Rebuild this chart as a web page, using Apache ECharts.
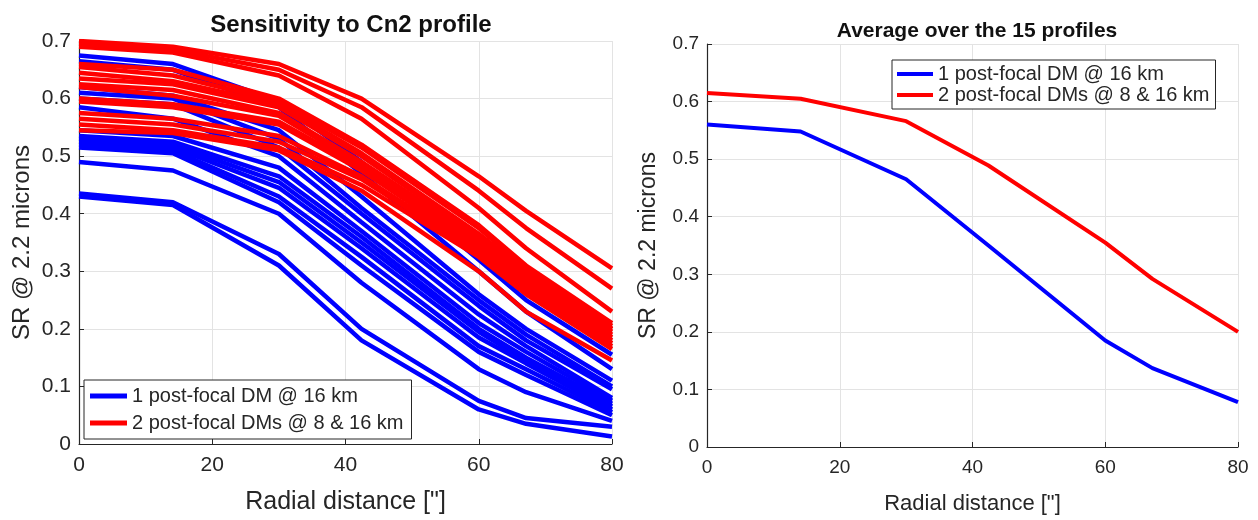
<!DOCTYPE html>
<html>
<head>
<meta charset="utf-8">
<script src="https://cdn.jsdelivr.net/npm/echarts@6/dist/echarts.min.js"></script>
<style>
  html, body { margin: 0; padding: 0; background: #fff; }
  #chart { width: 1258px; height: 520px; }
</style>
</head>
<body>
<div id="chart"></div>
<script>
// radial distance samples (arcsec)
const radialDistance = [0, 14.1, 30, 42.4, 60, 67.1, 80];

// 15 Cn2 profiles, 1 post-focal DM @ 16 km
const oneDmProfiles = [
  [0.675, 0.660, 0.595, 0.490, 0.320, 0.250, 0.155],
  [0.665, 0.650, 0.585, 0.470, 0.300, 0.230, 0.130],
  [0.620, 0.605, 0.545, 0.430, 0.260, 0.200, 0.110],
  [0.610, 0.600, 0.530, 0.410, 0.250, 0.190, 0.100],
  [0.600, 0.590, 0.515, 0.400, 0.240, 0.180, 0.095],
  [0.585, 0.565, 0.500, 0.385, 0.225, 0.170, 0.080],
  [0.545, 0.535, 0.480, 0.370, 0.210, 0.160, 0.075],
  [0.535, 0.525, 0.465, 0.360, 0.200, 0.150, 0.070],
  [0.530, 0.520, 0.455, 0.350, 0.195, 0.145, 0.065],
  [0.525, 0.515, 0.445, 0.340, 0.185, 0.140, 0.060],
  [0.520, 0.510, 0.430, 0.325, 0.170, 0.130, 0.055],
  [0.515, 0.505, 0.420, 0.310, 0.160, 0.120, 0.050],
  [0.490, 0.475, 0.400, 0.280, 0.130, 0.090, 0.040],
  [0.435, 0.420, 0.330, 0.200, 0.075, 0.045, 0.030],
  [0.430, 0.415, 0.310, 0.180, 0.060, 0.035, 0.013]
];

// same profiles, 2 post-focal DMs @ 8 & 16 km
const twoDmProfiles = [
  [0.700, 0.690, 0.660, 0.600, 0.465, 0.405, 0.305],
  [0.695, 0.685, 0.650, 0.585, 0.440, 0.375, 0.270],
  [0.690, 0.680, 0.640, 0.565, 0.410, 0.340, 0.230],
  [0.660, 0.650, 0.600, 0.520, 0.380, 0.310, 0.210],
  [0.655, 0.640, 0.595, 0.515, 0.375, 0.305, 0.205],
  [0.645, 0.630, 0.590, 0.505, 0.365, 0.300, 0.200],
  [0.635, 0.625, 0.585, 0.500, 0.360, 0.295, 0.200],
  [0.625, 0.615, 0.575, 0.490, 0.355, 0.290, 0.195],
  [0.620, 0.605, 0.570, 0.485, 0.350, 0.285, 0.190],
  [0.600, 0.590, 0.560, 0.480, 0.345, 0.280, 0.185],
  [0.595, 0.585, 0.555, 0.475, 0.340, 0.275, 0.180],
  [0.575, 0.565, 0.535, 0.465, 0.335, 0.270, 0.175],
  [0.565, 0.555, 0.525, 0.460, 0.330, 0.265, 0.170],
  [0.555, 0.545, 0.515, 0.450, 0.325, 0.260, 0.165],
  [0.545, 0.540, 0.510, 0.440, 0.300, 0.230, 0.145]
];

// averages over the 15 profiles
const oneDmAverage = [0.560, 0.548, 0.465, 0.350, 0.185, 0.137, 0.078];
const twoDmAverage = [0.615, 0.605, 0.566, 0.489, 0.355, 0.292, 0.200];

const xTicks = { min: 0, max: 80, interval: 20 };
const yTicks = { min: 0, max: 0.7, interval: 0.1 };

const NAME_ONE = '1 post-focal DM @ 16 km';
const NAME_TWO = '2 post-focal DMs @ 8 & 16 km';
const BLUE = '#0000ff';
const RED = '#ff0000';
const FONT = '"Liberation Sans", Arial, sans-serif';
const INK = '#262626';

const pairs = (vals) => vals.map((v, i) => [radialDistance[i], v]);

const lineSeries = (name, vals, color, idx, width) => ({
  name: name,
  type: 'line',
  xAxisIndex: idx,
  yAxisIndex: idx,
  data: pairs(vals),
  symbol: 'none',
  silent: true,
  animation: false,
  lineStyle: { color: color, width: width },
  itemStyle: { color: color }
});

function xAxisFor(idx, fs, nameFs, gap) {
  return {
    type: 'value', gridIndex: idx,
    min: xTicks.min, max: xTicks.max, interval: xTicks.interval,
    name: 'Radial distance ["]', nameLocation: 'middle', nameGap: gap,
    nameTextStyle: { fontFamily: FONT, fontSize: nameFs, color: INK },
    axisLine: { show: true, onZero: false, lineStyle: { color: INK, width: 1.2 } },
    axisTick: { show: true, inside: true, length: 5, lineStyle: { color: INK } },
    axisLabel: { fontFamily: FONT, fontSize: fs, color: INK, margin: 11 },
    splitLine: { show: true, lineStyle: { color: '#e3e3e3', width: 1 } }
  };
}

function yAxisFor(idx, fs, nameFs, gap) {
  return {
    type: 'value', gridIndex: idx,
    min: yTicks.min, max: yTicks.max, interval: yTicks.interval,
    name: 'SR @ 2.2 microns', nameLocation: 'middle', nameGap: gap,
    nameTextStyle: { fontFamily: FONT, fontSize: nameFs, color: INK },
    axisLine: { show: true, onZero: false, lineStyle: { color: INK, width: 1.2 } },
    axisTick: { show: true, inside: true, length: 5, lineStyle: { color: INK } },
    axisLabel: { fontFamily: FONT, fontSize: fs, color: INK, margin: 8,
      formatter: (v) => (Math.round(v * 10) / 10).toString() },
    splitLine: { show: true, lineStyle: { color: '#e3e3e3', width: 1 } }
  };
}

const series = [];
for (let i = 0; i < oneDmProfiles.length; i++) {
  series.push(lineSeries(NAME_ONE, oneDmProfiles[i], BLUE, 0, 4.5));
  series.push(lineSeries(NAME_TWO, twoDmProfiles[i], RED, 0, 4.5));
}
series.push(lineSeries(NAME_ONE, oneDmAverage, BLUE, 1, 4));
series.push(lineSeries(NAME_TWO, twoDmAverage, RED, 1, 4));

const chart = echarts.init(document.getElementById('chart'), null, { renderer: 'canvas' });
chart.setOption({
  backgroundColor: '#fff',
  animation: false,
  title: [
    { text: 'Sensitivity to Cn2 profile', left: 346, top: 8, textAlign: 'center',
      textStyle: { fontFamily: FONT, fontSize: 24, fontWeight: 'bold', color: '#111' } },
    { text: 'Average over the 15 profiles', left: 972, top: 16, textAlign: 'center',
      textStyle: { fontFamily: FONT, fontSize: 21, fontWeight: 'bold', color: '#111' } }
  ],
  grid: [
    { left: 79, right: 646, top: 41, bottom: 74 },
    { left: 707, right: 20, top: 44, bottom: 71 }
  ],
  xAxis: [xAxisFor(0, 21, 25, 46), xAxisFor(1, 19, 22, 46)],
  yAxis: [yAxisFor(0, 21, 24, 45), yAxisFor(1, 19, 23, 47)],
  legend: [
    { data: [NAME_ONE, NAME_TWO], orient: 'vertical', left: 84, top: 380,
      selectedMode: false, icon: 'rect', itemWidth: 37, itemHeight: 5, itemGap: 7,
      padding: [6, 8, 6, 6], borderColor: INK, borderWidth: 1, backgroundColor: '#fff',
      textStyle: { fontFamily: FONT, fontSize: 20, color: INK } },
    { data: [NAME_ONE, NAME_TWO], orient: 'vertical', left: 892, top: 60,
      selectedMode: false, icon: 'rect', itemWidth: 36, itemHeight: 4, itemGap: 1,
      padding: [4, 6, 4, 5], borderColor: INK, borderWidth: 1, backgroundColor: '#fff',
      textStyle: { fontFamily: FONT, fontSize: 20, color: INK } }
  ],
  series: series
});
</script>
</body>
</html>
